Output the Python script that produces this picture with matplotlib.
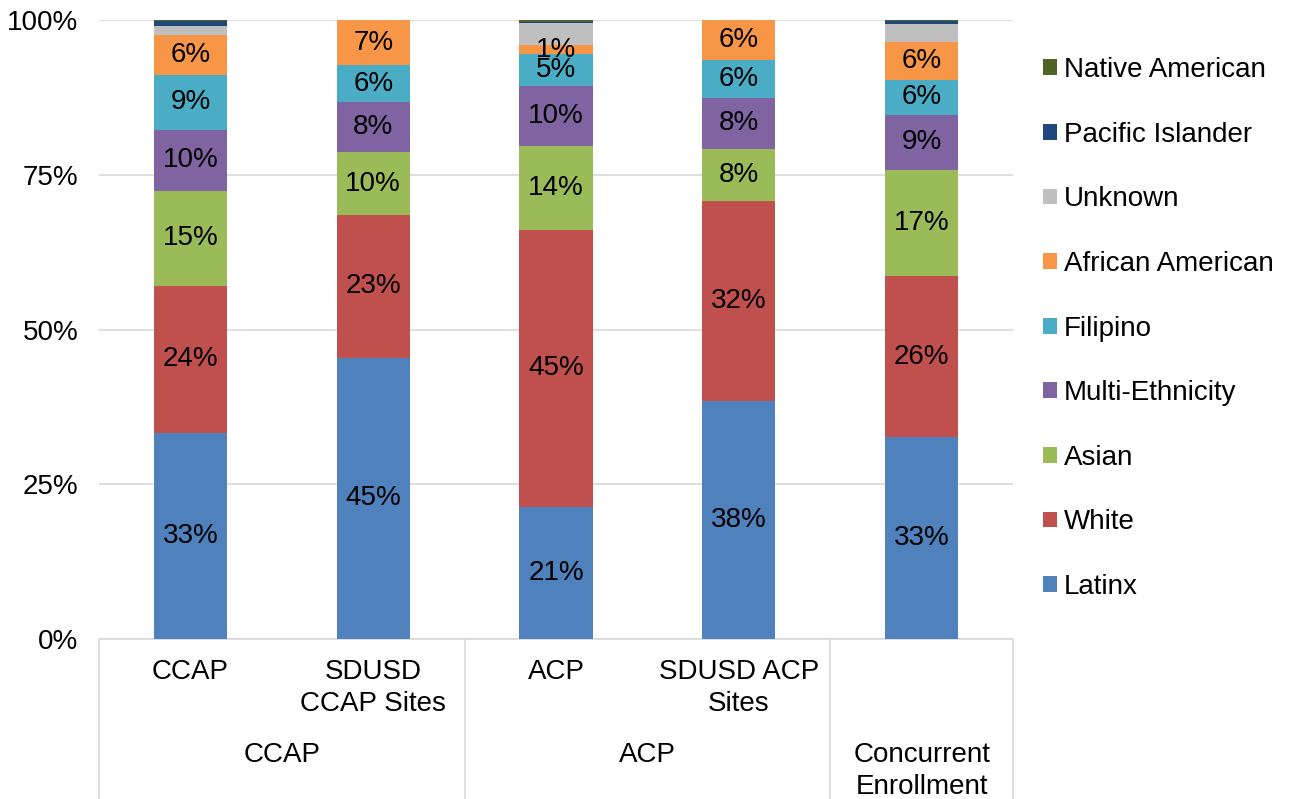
import matplotlib
matplotlib.use("Agg")
import matplotlib.pyplot as plt
from matplotlib.lines import Line2D
from matplotlib.patches import Patch
import numpy as np

plt.rcParams['font.family'] = ['Liberation Sans', 'DejaVu Sans']

categories = ["CCAP", "SDUSD\nCCAP Sites", "ACP", "SDUSD ACP\nSites", ""]
groups = ["CCAP", "ACP", "Concurrent\nEnrollment"]
group_spans = [(0, 2), (2, 4), (4, 5)]

series = ["Latinx", "White", "Asian", "Multi-Ethnicity", "Filipino",
          "African American", "Unknown", "Pacific Islander", "Native American"]
latinx = [33.3, 45.4, 21.3, 38.4, 32.6]
white = [23.8, 23.1, 44.8, 32.4, 26.0]
asian = [15.3, 10.1, 13.6, 8.4, 17.2]
multi = [9.9, 8.1, 9.6, 8.2, 8.9]
filipino = [8.8, 6.0, 5.2, 6.2, 5.6]
african_american = [6.4, 7.3, 1.4, 6.4, 6.1]
unknown = [1.6, 0.0, 3.6, 0.0, 2.9]
pacific = [0.7, 0.0, 0.1, 0.0, 0.5]
native = [0.2, 0.0, 0.5, 0.0, 0.2]

values = [latinx, white, asian, multi, filipino, african_american, unknown, pacific, native]
colors = ["#4F81BD", "#C0504D", "#9BBB59", "#8064A2", "#4BACC6",
          "#F79646", "#BFBFBF", "#1F497D", "#4F6228"]
labeled = [True, True, True, True, True, True, False, False, False]

W, H = 1289, 799
fig = plt.figure(figsize=(W / 100, H / 100), dpi=100)
ax_left, ax_right, ax_top, ax_bot = 99, 1013, 20, 639
ax = fig.add_axes([ax_left / W, (H - ax_bot) / H, (ax_right - ax_left) / W, (ax_bot - ax_top) / H])

fs = 20
x = np.arange(len(categories))
bottom = np.zeros(len(categories))
for name, vals, col, lab in zip(series, values, colors, labeled):
    v = np.array(vals, dtype=float)
    ax.bar(x, v, bottom=bottom, width=0.4, color=col, label=name, zorder=3)
    if lab:
        for xi, b, vi in zip(x, bottom, v):
            if vi > 0:
                ax.text(xi, b + vi / 2, f"{int(round(vi))}%", ha='center', va='center',
                        fontsize=fs, color='black', zorder=4)
    bottom += v

ax.set_xlim(-0.5, len(categories) - 0.5)
ax.set_ylim(0, 100)
ax.set_yticks([0, 25, 50, 75, 100])
ax.set_yticklabels(["0%", "25%", "50%", "75%", "100%"], fontsize=fs)
ax.yaxis.grid(True, color="#D9D9D9", linewidth=1.2, zorder=0)
ax.set_axisbelow(True)
ax.tick_params(axis='y', length=0, pad=15)
ax.set_xticks([])
for s in ['top', 'right', 'left']:
    ax.spines[s].set_visible(False)
ax.spines['bottom'].set_color("#D9D9D9")
ax.spines['bottom'].set_linewidth(1.2)

# Multi-level category axis
cat_w = (ax_right - ax_left) / len(categories)
def fx(px):
    return px / W
def fy(py):
    return (H - py) / H

bounds = [ax_left] + [ax_left + cat_w * e for (_, e) in group_spans]
for bx in bounds:
    fig.add_artist(Line2D([fx(bx), fx(bx)], [fy(ax_bot), 0], color="#D9D9D9", linewidth=1.2))

for i, c in enumerate(categories):
    if c:
        cx = ax_left + cat_w * (i + 0.5)
        fig.text(fx(cx), fy(659), c, ha='center', va='top', fontsize=fs, linespacing=1.28)

for g, (s, e) in zip(groups, group_spans):
    cx = ax_left + cat_w * (s + e) / 2
    fig.text(fx(cx), fy(742), g, ha='center', va='top', fontsize=fs, linespacing=1.28)

# Legend
handles = [Patch(facecolor=c, edgecolor='none') for c in colors][::-1]
fig.legend(handles, series[::-1], loc='upper left', bbox_to_anchor=(1032 / W, fy(46)),
           frameon=False, fontsize=fs, handlelength=0.5, handleheight=0.5,
           handletextpad=0.25, labelspacing=1.39, borderaxespad=0)

fig.savefig("out.png", dpi=100)
